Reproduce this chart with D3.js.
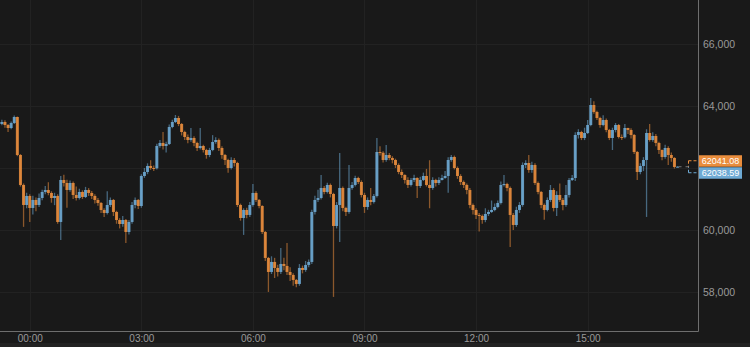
<!DOCTYPE html>
<html>
<head>
<meta charset="utf-8">
<script src="https://cdn.jsdelivr.net/npm/d3@7"></script>
<style>
  html, body { margin: 0; padding: 0; background: #191919; }
  svg { display: block; }
  text { font-family: "Liberation Sans", Arial, sans-serif; }
</style>
</head>
<body>
<div class="canvas"></div>
<script>
// 5-minute candles, first one at 23:15 the day before
const startTime = new Date(2021, 9, 20, 23, 15);
const stepMinutes = 5;
const firstOpen = 63420;

const closes = [
  63484, 63387, 63290, 63452, 63645, 62419, 61452, 60806, 61097, 60710,
  60968, 60806, 61032, 61226, 61290, 61194, 61032, 61097, 60258, 61613,
  61516, 61290, 61516, 61129, 61032, 61226, 61065, 61290, 61194, 61097,
  60968, 60871, 60645, 60548, 60806, 60968, 60581, 60322, 60193, 60322,
  59935, 60258, 60806, 60968, 60774, 61742, 61871, 62065, 62000, 61990,
  62710, 62807, 62710, 62774, 63323, 63484, 63613, 63419, 63161, 63000,
  62903, 62968, 62807, 62645, 62710, 62581, 62419, 62581, 62839, 62903,
  62645, 62419, 62258, 62000, 62258, 62161, 60806, 60387, 60645, 60484,
  60806, 61194, 60968, 60774, 59935, 59097, 58645, 58968, 58774, 58645,
  58903, 58839, 58645, 58548, 58387, 58258, 58774, 58710, 58871, 58968,
  60581, 60968, 61032, 61355, 61226, 61452, 61161, 60129, 60806, 61355,
  60710, 60581, 61355, 61452, 61677, 61548, 61129, 60742, 60968, 60903,
  61097, 62516, 62490, 62258, 62419, 62323, 62258, 62097, 61871, 61774,
  61613, 61452, 61613, 61677, 61419, 61613, 61742, 61452, 61355, 61613,
  61516, 61613, 61677, 61742, 62258, 62355, 62000, 61742, 61548, 61452,
  61290, 60806, 60645, 60484, 60452, 60322, 60516, 60581, 60645, 60742,
  60871, 61452, 61484, 61355, 60484, 60161, 60645, 60806, 62097, 62161,
  61935, 62097, 61516, 61226, 60806, 60645, 60968, 61290, 60710, 61129,
  60968, 60806, 61129, 61613, 61677, 63065, 63161, 62968, 63129, 63387,
  64032, 63807, 63613, 63387, 63548, 63226, 62968, 63226, 63387, 63000,
  62990, 63290, 63226, 63065, 62516, 61871, 62065, 62258, 63129, 62903,
  63032, 62807, 62581, 62355, 62645, 62419, 62323, 62032, 62041.08
];

const highs = [
  63560, 63540, 63420, 63500, 63690, 63660, 62450, 61500, 61200, 61150,
  61100, 61050, 61180, 61300, 61420, 61540, 61250, 61200, 61150, 61740,
  61780, 61620, 61600, 61560, 61400, 61330, 61280, 61390, 61350, 61260,
  61150, 61030, 60900, 60700, 61250, 61050, 61000, 60620, 60380, 60450,
  60350, 60320, 60900, 61050, 61000, 61800, 62000, 62150, 62250, 62080,
  62780, 62900, 63160, 62850, 63400, 63560, 63710, 63680, 63450, 63200,
  63080, 63290, 63020, 62850, 63290, 62750, 62620, 62650, 63060, 62990,
  62950, 62700, 62450, 62300, 62350, 62320, 62200, 60850, 60700, 60720,
  60900, 61480, 61250, 61000, 60800, 59970, 59130, 59150, 59100, 58880,
  59420, 59100, 59580, 58800, 58600, 58420, 58900, 58850, 59000, 59050,
  60650, 61100, 61300, 61770, 61420, 61520, 61500, 61200, 60900, 62480,
  61400, 60750, 62100, 61550, 61750, 61720, 61600, 61200, 61050, 61355,
  61160, 62970, 62700, 62540, 62740, 62480, 62380, 62300, 62150, 61950,
  61800, 61700, 61680, 61780, 61700, 61720, 61850, 61970, 62250, 61700,
  61650, 61700, 61780, 61900, 62350, 62420, 62400, 62050, 61800, 61600,
  61500, 61350, 60850, 60700, 60550, 60500, 60700, 60650, 60950, 60850,
  60950, 61560, 61770, 61520, 61400, 60550, 60750, 60900, 62180, 62250,
  62420, 62200, 62150, 61560, 61260, 60850, 61050, 61450, 61350, 61250,
  61500, 61030, 61450, 61680, 61770, 63150, 63250, 63200, 63300, 63550,
  64260, 64150, 63850, 63650, 63700, 63600, 63260, 63300, 63450, 63420,
  63080, 63420, 63300, 63280, 63100, 62550, 62150, 62350, 63250, 63420,
  63150, 63100, 62850, 62600, 62750, 62700, 62500, 62350, 62060
];

const lows = [
  63380, 63300, 63160, 63250, 63420, 62380, 61400, 60100, 60700, 60260,
  60500, 60600, 60740, 60960, 61150, 61120, 60880, 60800, 60200, 59680,
  61400, 60720, 61230, 61000, 60950, 60980, 61000, 61030, 61100, 61000,
  60850, 60780, 60550, 60420, 60500, 60740, 60450, 60200, 60050, 60100,
  59580, 59850, 60200, 60700, 60680, 60720, 61680, 61800, 61940, 61900,
  61950, 62650, 62600, 62500, 62740, 63280, 63450, 63350, 63050, 62900,
  62800, 62850, 62700, 62550, 62600, 62500, 62300, 62350, 62540, 62780,
  62550, 62300, 62100, 61850, 61950, 62050, 60740, 60300, 59840, 60380,
  60420, 60750, 60900, 60700, 59870, 59000, 58000, 58580, 58450, 58500,
  58580, 58700, 58550, 58350, 58200, 58150, 58200, 58600, 58650, 58800,
  58900, 60500, 60900, 60980, 61150, 61180, 61050, 57840, 60050, 59610,
  60600, 60450, 60520, 61300, 61400, 61480, 61050, 60550, 60650, 60800,
  60850, 61050, 62400, 62180, 62200, 62250, 62150, 62000, 61800, 61680,
  61500, 61350, 61400, 61550, 61030, 61350, 61580, 61400, 60700, 61300,
  61400, 61450, 61600, 61650, 61200, 62200, 61950, 61650, 61450, 61350,
  61150, 60700, 60500, 60350, 59950, 60200, 60250, 60450, 60550, 60600,
  60700, 60820, 61400, 61250, 59450, 60000, 60100, 60550, 60750, 62000,
  61850, 61850, 61450, 61150, 60700, 60330, 60600, 60900, 60600, 60450,
  60900, 60640, 60750, 61050, 61580, 61580, 62950, 62900, 62900, 63100,
  63350, 63750, 63550, 63300, 63350, 63150, 62900, 62580, 63150, 62950,
  62900, 62950, 63100, 62950, 62450, 61610, 61800, 61900, 60420, 62850,
  62850, 62700, 62450, 62250, 62300, 62100, 62200, 61980, 62020
];

const priceTicks = [58000, 60000, 62000, 64000, 66000];
const askPrice = 62041.08;
const bidPrice = 62038.59;

const candles = closes.map((c, i) => ({
  time: new Date(startTime.getTime() + i * stepMinutes * 60000),
  open: i === 0 ? firstOpen : closes[i - 1],
  high: highs[i],
  low: lows[i],
  close: c
}));

const svgWidth = 750;
const svgHeight = 347;
const plotWidth = 698;
const plotHeight = 331;

const upColor = '#6eaad4';
const downColor = '#e98d3d';

const svg = d3.select('.canvas')
  .append('svg')
    .attr('width', svgWidth)
    .attr('height', svgHeight);

svg.append('rect')
  .attr('width', svgWidth)
  .attr('height', svgHeight)
  .attr('fill', '#191919');

svg.append('rect')
  .attr('y', 343)
  .attr('width', svgWidth)
  .attr('height', svgHeight - 343)
  .attr('fill', '#222222');

const x = d3.scaleTime()
  .domain([new Date(2021, 9, 20, 23, 12), new Date(2021, 9, 21, 17, 58)])
  .range([0, plotWidth]);

const y = d3.scaleLinear()
  .domain([56740, 67420])
  .range([plotHeight, 0]);

// grid
const timeTicks = x.ticks(d3.timeHour.every(3));
svg.append('g').selectAll('line')
  .data(timeTicks)
  .join('line')
    .attr('x1', d => Math.round(x(d)) + 0.5)
    .attr('x2', d => Math.round(x(d)) + 0.5)
    .attr('y1', 0)
    .attr('y2', plotHeight)
    .attr('stroke', '#222222');

svg.append('g').selectAll('line')
  .data(priceTicks)
  .join('line')
    .attr('x1', 0)
    .attr('x2', plotWidth)
    .attr('y1', d => Math.round(y(d)) + 0.5)
    .attr('y2', d => Math.round(y(d)) + 0.5)
    .attr('stroke', '#222222');

// candles
const candleGroup = svg.append('g');
const bodyWidth = 3;

candleGroup.selectAll('line')
  .data(candles)
  .join('line')
    .attr('x1', d => x(d.time))
    .attr('x2', d => x(d.time))
    .attr('y1', d => y(d.high))
    .attr('y2', d => y(d.low))
    .attr('stroke', d => d.close >= d.open ? upColor : downColor)
    .attr('stroke-opacity', 0.55)
    .attr('stroke-width', 1.3);

candleGroup.selectAll('rect')
  .data(candles)
  .join('rect')
    .attr('x', d => x(d.time) - bodyWidth / 2)
    .attr('width', bodyWidth)
    .attr('y', d => y(Math.max(d.open, d.close)))
    .attr('height', d => Math.max(1, Math.abs(y(d.open) - y(d.close))))
    .attr('fill', d => d.close >= d.open ? upColor : downColor)
    .attr('fill-opacity', 0.88);

// frame
svg.append('line')
  .attr('x1', plotWidth + 0.5).attr('x2', plotWidth + 0.5)
  .attr('y1', 0).attr('y2', plotHeight + 0.5)
  .attr('stroke', '#6e6e6e');
svg.append('line')
  .attr('x1', 0).attr('x2', plotWidth + 0.5)
  .attr('y1', plotHeight + 0.5).attr('y2', plotHeight + 0.5)
  .attr('stroke', '#6e6e6e');

// axes
const xAxisGroup = svg.append('g')
  .attr('transform', `translate(0,${plotHeight})`)
  .call(d3.axisBottom(x)
    .tickValues(timeTicks)
    .tickSize(0)
    .tickPadding(4)
    .tickFormat(d3.timeFormat('%H:%M')));
xAxisGroup.select('.domain').remove();
xAxisGroup.selectAll('text')
  .attr('fill', '#9a9a9a')
  .attr('font-size', 10)
  .attr('font-family', '"Liberation Sans", Arial, sans-serif');

const yAxisGroup = svg.append('g')
  .attr('transform', `translate(${plotWidth},0)`)
  .call(d3.axisRight(y)
    .tickValues(priceTicks.filter(v => v !== 62000))
    .tickSize(0)
    .tickPadding(5)
    .tickFormat(d3.format(',')));
yAxisGroup.select('.domain').remove();
yAxisGroup.selectAll('text')
  .attr('fill', '#9a9a9a')
  .attr('font-size', 10.5)
  .attr('font-family', '"Liberation Sans", Arial, sans-serif');

// last price markers (they cover the 62,000 tick label)
const last = candles[candles.length - 1];
const mid = y((askPrice + bidPrice) / 2);
const labels = [
  { value: askPrice, color: downColor, cy: mid - 6 },
  { value: bidPrice, color: upColor, cy: mid + 6 }
];
const bracketX = 688.5;

svg.append('line')
  .attr('x1', x(last.time) + 1).attr('x2', bracketX)
  .attr('y1', mid).attr('y2', mid)
  .attr('stroke', '#777777')
  .attr('stroke-dasharray', '3,4');

labels.forEach(l => {
  svg.append('line')
    .attr('x1', bracketX).attr('x2', plotWidth)
    .attr('y1', l.cy).attr('y2', l.cy)
    .attr('stroke', l.color)
    .attr('stroke-dasharray', '3,2');
  svg.append('line')
    .attr('x1', bracketX).attr('x2', bracketX)
    .attr('y1', l.cy).attr('y2', mid)
    .attr('stroke', l.color)
    .attr('stroke-dasharray', '3,2');
  svg.append('rect')
    .attr('x', plotWidth + 1)
    .attr('y', l.cy - 5.5)
    .attr('width', 43)
    .attr('height', 11.5)
    .attr('fill', l.color);
  svg.append('text')
    .attr('x', plotWidth + 22.5)
    .attr('y', l.cy + 3.3)
    .attr('text-anchor', 'middle')
    .attr('fill', '#ffffff')
    .attr('font-size', 9)
    .text(l.value.toFixed(2));
});
</script>
</body>
</html>
